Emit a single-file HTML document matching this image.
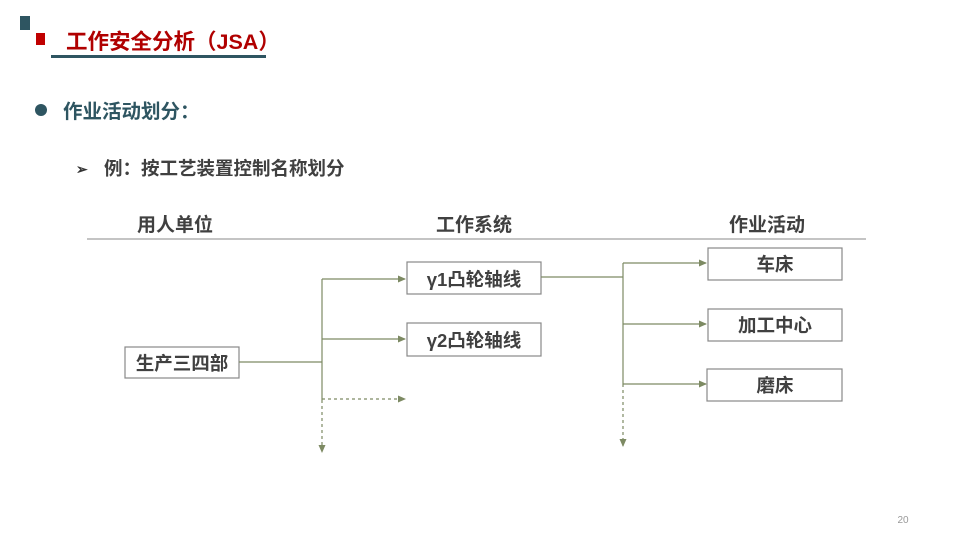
<!DOCTYPE html>
<html><head><meta charset="utf-8"><style>
body{margin:0;width:960px;height:540px;background:#fff;overflow:hidden}
svg{display:block}
text{font-family:"Liberation Sans","Noto Sans CJK SC",sans-serif;font-weight:bold}
</style></head><body>
<svg width="960" height="540" viewBox="0 0 960 540">
<defs>
<marker id="a" markerWidth="8" markerHeight="8" refX="7" refY="4" orient="auto" markerUnits="userSpaceOnUse"><path d="M0,0.5 L8,4 L0,7.5 Z" fill="#7d8a63"/></marker>
</defs>
<rect x="20" y="16" width="10" height="14" fill="#2e5561"/>
<rect x="36" y="33" width="9" height="12" fill="#c00000"/>
<text x="66" y="49" font-size="21.5" fill="#b00000">工作安全分析（JSA）</text>
<rect x="51" y="55" width="215" height="3" fill="#2e5561"/>
<circle cx="41" cy="110" r="6" fill="#2e5561"/>
<text x="63" y="118" font-size="19.5" fill="#2e5561">作业活动划分：</text>
<text x="76" y="174" font-size="14" fill="#333">➢</text>
<text x="104" y="175" font-size="18.5" fill="#404040">例：按工艺装置控制名称划分</text>
<text x="137" y="231" font-size="19" fill="#404040">用人单位</text>
<text x="436" y="231" font-size="19" fill="#404040">工作系统</text>
<text x="729" y="231" font-size="19" fill="#404040">作业活动</text>
<line x1="87" y1="239" x2="866" y2="239" stroke="#888" stroke-width="1"/>
<g fill="none" stroke="#7d8a63" stroke-width="1.2">
<rect x="125" y="347" width="114" height="31" stroke="#888"/>
<rect x="407" y="262" width="134" height="32" stroke="#888"/>
<rect x="407" y="323" width="134" height="33" stroke="#888"/>
<rect x="708" y="248" width="134" height="32" stroke="#888"/>
<rect x="708" y="309" width="134" height="32" stroke="#888"/>
<rect x="707" y="369" width="135" height="32" stroke="#888"/>
<line x1="239" y1="362" x2="322" y2="362"/>
<line x1="322" y1="279" x2="322" y2="400"/>
<line x1="322" y1="400" x2="322" y2="452" stroke-dasharray="3,3" marker-end="url(#a)"/>
<line x1="322" y1="279" x2="405" y2="279" marker-end="url(#a)"/>
<line x1="322" y1="339" x2="405" y2="339" marker-end="url(#a)"/>
<line x1="322" y1="399" x2="405" y2="399" stroke-dasharray="3,3" marker-end="url(#a)"/>
<line x1="541" y1="277" x2="623" y2="277"/>
<line x1="623" y1="263" x2="623" y2="384"/>
<line x1="623" y1="384" x2="623" y2="446" stroke-dasharray="3,3" marker-end="url(#a)"/>
<line x1="623" y1="263" x2="706" y2="263" marker-end="url(#a)"/>
<line x1="623" y1="324" x2="706" y2="324" marker-end="url(#a)"/>
<line x1="623" y1="384" x2="706" y2="384" marker-end="url(#a)"/>
</g>
<g font-size="18.5" fill="#404040" text-anchor="middle">
<text x="182" y="370">生产三四部</text>
<text x="474" y="286">γ1凸轮轴线</text>
<text x="474" y="347">γ2凸轮轴线</text>
<text x="775" y="271">车床</text>
<text x="775" y="332">加工中心</text>
<text x="775" y="392">磨床</text>
</g>
<text x="903" y="523" font-size="10" fill="#999" text-anchor="middle" style="font-weight:normal">20</text>
</svg>
</body></html>
